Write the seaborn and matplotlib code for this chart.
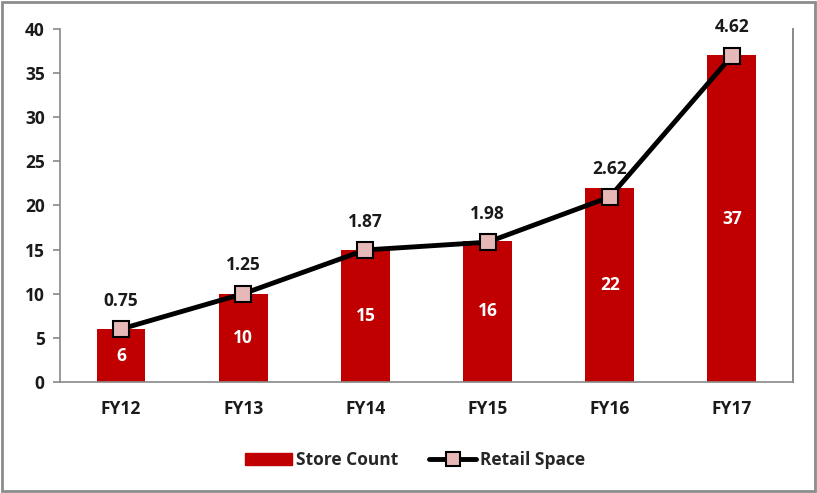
import matplotlib
matplotlib.use("Agg")
import matplotlib.pyplot as plt
import seaborn as sns
import numpy as np
from matplotlib.patches import Rectangle
from matplotlib.lines import Line2D
from matplotlib.patches import Patch

categories = ["FY12", "FY13", "FY14", "FY15", "FY16", "FY17"]
store_count = [6, 10, 15, 16, 22, 37]
retail_space = [0.75, 1.25, 1.87, 1.98, 2.62, 4.62]

sns.set_theme(style="white")
FONT = ['Open Sans', 'DejaVu Sans']
plt.rcParams['font.family'] = FONT
plt.rcParams['font.weight'] = 'bold'
FS = 12.5

fig = plt.figure(figsize=(8.17, 4.93), dpi=100)
ax = fig.add_axes([0.0734, 0.2252, 0.8972, 0.716])

bar_color = "#C00000"
grey = "#898989"
sns.barplot(x=categories, y=store_count, color=bar_color, width=0.4, ax=ax,
            saturation=1, linewidth=0)
ax.set_xlim(-0.5, 5.5)
ax.set_ylim(0, 40)
ax.set_yticks(range(0, 41, 5))
ax.set_xlabel("")
ax.set_ylabel("")
ax.spines["top"].set_visible(False)
for s in ["left", "bottom", "right"]:
    ax.spines[s].set_color(grey)
    ax.spines[s].set_linewidth(1.2)
ax.tick_params(axis="y", direction="out", length=5, color=grey, width=1.2, labelsize=FS, pad=6)
ax.tick_params(axis="x", which="major", length=0, labelsize=FS, pad=13)
ax.set_xticks(np.arange(-0.5, 6, 1), minor=True)
ax.tick_params(axis="x", which="minor", direction="out", length=5, color=grey, width=1.2)
for lbl in ax.get_xticklabels() + ax.get_yticklabels():
    lbl.set_fontweight("bold")
    lbl.set_color("#1a1a1a")

for i, v in enumerate(store_count):
    ax.text(i, v / 2, str(v), ha="center", va="center", color="white",
            fontsize=FS, fontweight="bold")

ax2 = ax.twinx()
ax2.set_ylim(0, 5)
ax2.plot(range(len(categories)), retail_space, color="black", linewidth=3.5,
         marker="s", markersize=12, markerfacecolor="#E6B9B8",
         markeredgecolor="black", markeredgewidth=1.5, zorder=5)
ax2.set_yticks([])
for s in ["top", "left", "bottom"]:
    ax2.spines[s].set_visible(False)
ax2.spines["right"].set_color(grey)
ax2.spines["right"].set_linewidth(1.2)
for i, v in enumerate(retail_space):
    ax2.annotate(f"{v:.2f}", (i, v), xytext=(0, 14), textcoords="offset points",
                 ha="center", va="bottom", fontsize=FS, fontweight="bold", color="#1a1a1a")

handles = [Patch(facecolor=bar_color, edgecolor=bar_color),
           Line2D([0], [0], color="black", linewidth=3.5, marker="s", markersize=10,
                  markerfacecolor="#E6B9B8", markeredgecolor="black", markeredgewidth=1.5)]
fig.legend(handles, ["Store Count", "Retail Space"], loc="center",
           bbox_to_anchor=(0.508, 0.066), ncol=2, frameon=False,
           prop={"family": FONT, "weight": "bold", "size": FS},
           handlelength=2.7, handletextpad=0.2, columnspacing=1.8)

fig.patches.append(Rectangle((0.002, 0.004), 0.995, 0.992, transform=fig.transFigure,
                             fill=False, edgecolor="#8c8c8c", linewidth=2))

fig.savefig("out.png", dpi=100)
